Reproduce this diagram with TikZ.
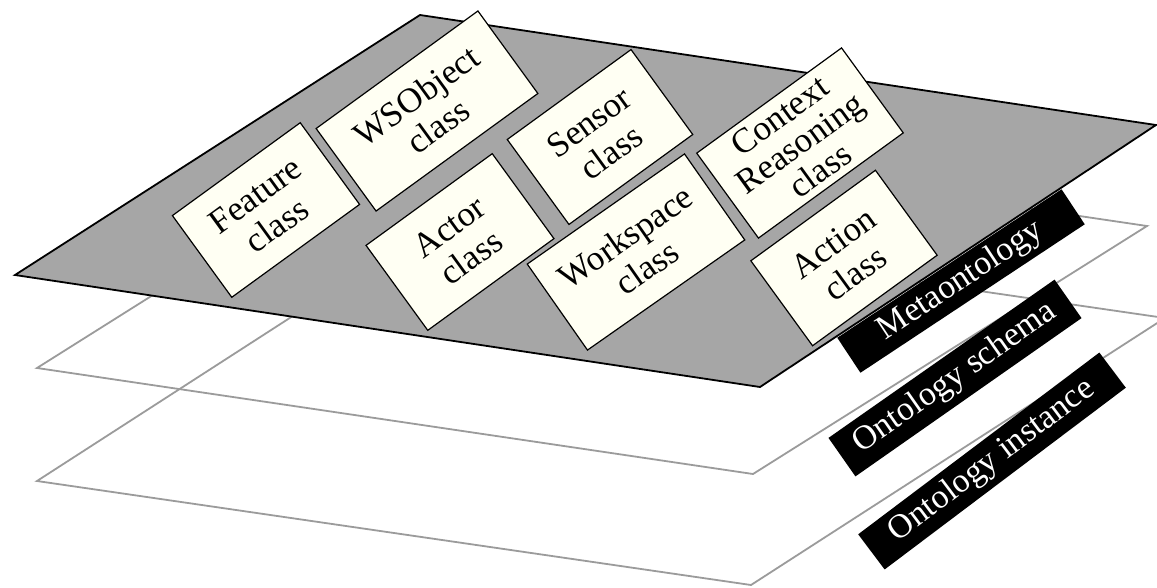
\documentclass[tikz,border=0pt]{standalone}
\usepackage{fontspec}
\setmainfont{Liberation Serif}
\definecolor{planegray}{RGB}{166,166,166}
\definecolor{layerline}{RGB}{155,155,155}
\definecolor{cream}{RGB}{255,255,243}
\begin{document}
\begin{tikzpicture}[x=1pt,y=-1pt,
  classbox/.style={draw=black, line width=1.2pt, fill=cream, inner sep=0pt,
    align=center, font=\fontsize{35}{37}\selectfont},
  layerlabel/.style={fill=black, text=white, inner sep=0pt,
    font=\fontsize{34}{34}\selectfont},
  layerplane/.style={draw=layerline, line width=1.8pt, line join=miter},
  metaplane/.style={draw=black, fill=planegray, line width=1.8pt, line join=miter}]
\useasboundingbox (0,0) rectangle (1157,587);
\clip (0,0) rectangle (1157,587);
% bottom layer: ontology instance
\coordinate (L3) at (37,481);
\coordinate (B3) at (751,585);
\coordinate (R3) at (1165,318);
\coordinate (T3) at (451,214);
\draw[layerplane] (L3) -- (B3) -- (R3) -- (T3) -- cycle;
% middle layer: ontology schema
\coordinate (L2) at (37,368);
\coordinate (B2) at (753,474);
\coordinate (R2) at (1147,226);
\coordinate (T2) at (431,120);
\draw[layerplane] (L2) -- (B2) -- (R2) -- (T2) -- cycle;
% top layer: metaontology
\coordinate (L1) at (15,275);
\coordinate (B1) at (760,387);
\coordinate (R1) at (1156,125);
\coordinate (T1) at (420,15);
\draw[metaplane] (L1) -- (B1) -- (R1) -- (T1) -- cycle;
% classes
\node[classbox, rotate=36, minimum width=158pt, minimum height=101pt] (feature) at (266,210) {Feature\\class};
\node[classbox, rotate=36, minimum width=200pt, minimum height=102pt] (wsobject) at (427,111) {WSObject\\class};
\node[classbox, rotate=36, minimum width=156pt, minimum height=105pt] (actor) at (460,242) {Actor\\class};
\node[classbox, rotate=36, minimum width=153pt, minimum height=105pt] (sensor) at (600,137) {Sensor\\class};
\node[classbox, rotate=36, minimum width=179pt, minimum height=105pt, font=\fontsize{35}{34}\selectfont] (context) at (800,143) {Context\\Reasoning\\class};
\node[classbox, rotate=35, minimum width=192pt, minimum height=105pt] (workspace) at (636,252) {Workspace\\class};
\node[classbox, rotate=36, minimum width=154pt, minimum height=105pt] (action) at (844,258) {Action\\class};
% layer labels
\node[layerlabel, rotate=33.5, minimum width=269pt, minimum height=42pt] (meta) at (961,281) {Metaontology};
\node[layerlabel, rotate=35, minimum width=276pt, minimum height=47pt] (schema) at (955,378) {Ontology schema};
\node[layerlabel, rotate=37, minimum width=302pt, minimum height=44pt] (instance) at (992,461) {Ontology instance};
\end{tikzpicture}
\end{document}
